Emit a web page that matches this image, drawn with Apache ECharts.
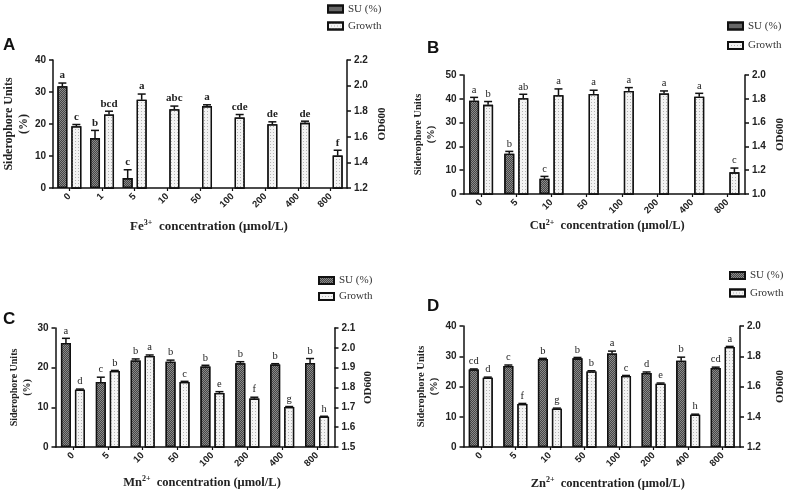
<!DOCTYPE html>
<html>
<head>
<meta charset="utf-8">
<script src="https://cdn.jsdelivr.net/npm/echarts@6/dist/echarts.min.js"></script>
<style>html,body{margin:0;padding:0;background:#fff}#c{width:787px;height:491px}</style>
</head>
<body>
<div id="c"></div>
<script>
// ---------- DATA ----------
const catsA = ['0','1','5','10','50','100','200','400','800'];
const suA = [31.8, 15.6, 3.1, null, null, null, null, null, null];
const suErrA = [1.0, 2.4, 2.6, null, null, null, null, null, null];
const growthA = [1.683, 1.774, 1.889, 1.816, 1.840, 1.751, 1.699, 1.709, 1.453];
const growthErrA = [0.013, 0.026, 0.045, 0.024, 0.010, 0.023, 0.018, 0.013, 0.042];
const suLetA = ['a','b','c','','','','','',''];
const growthLetA = ['c','bcd','a','abc','a','cde','de','de','f'];
const leftAxisA = [0, 40, 10];
const rightAxisA = [1.2, 2.2, 0.2];

const catsB = ['0','5','10','50','100','200','400','800'];
const suB = [39.2, 16.9, 6.4, null, null, null, null, null];
const suErrB = [1.4, 1.0, 1.0, null, null, null, null, null];
const growthB = [1.749, 1.804, 1.830, 1.841, 1.866, 1.844, 1.818, 1.182];
const growthErrB = [0.028, 0.034, 0.053, 0.031, 0.028, 0.022, 0.028, 0.036];
const suLetB = ['a','b','c','','','','',''];
const growthLetB = ['b','ab','a','a','a','a','a','c'];
const leftAxisB = [0, 50, 10];
const rightAxisB = [1.0, 2.0, 0.2];

const catsC = ['0','5','10','50','100','200','400','800'];
const suC = [26.2, 16.4, 21.8, 21.5, 20.3, 21.1, 20.8, 21.2];
const suErrC = [1.2, 1.2, 0.4, 0.4, 0.3, 0.4, 0.2, 1.1];
const growthC = [1.789, 1.883, 1.959, 1.828, 1.772, 1.744, 1.702, 1.653];
const growthErrC = [0.003, 0.003, 0.005, 0.003, 0.007, 0.007, 0.002, 0.002];
const suLetC = ['a','c','b','b','b','b','b','b'];
const growthLetC = ['d','b','a','c','e','f','g','h'];
const leftAxisC = [0, 30, 10];
const rightAxisC = [1.5, 2.1, 0.1];

const catsD = ['0','5','10','50','100','200','400','800'];
const suD = [25.6, 26.8, 29.1, 29.3, 30.9, 24.5, 28.5, 26.1];
const suErrD = [0.2, 0.3, 0.2, 0.3, 0.8, 0.3, 1.2, 0.3];
const growthD = [1.658, 1.484, 1.453, 1.700, 1.669, 1.619, 1.414, 1.861];
const growthErrD = [0.004, 0.004, 0.004, 0.004, 0.004, 0.004, 0.003, 0.004];
const suLetD = ['cd','c','b','b','a','d','b','cd'];
const growthLetD = ['d','f','g','b','c','e','h','a'];
const leftAxisD = [0, 40, 10];
const rightAxisD = [1.2, 2.0, 0.2];

const ionNames = ['Fe', 'Cu', 'Mn', 'Zn'];
const ionCharges = ['3+', '2+', '2+', '2+'];
const panelLabels = ['A', 'B', 'C', 'D'];

// ---------- LAYOUT / STYLE ----------
const SANS = '"Liberation Sans", Arial, sans-serif';
const SERIF = '"Liberation Serif", "Times New Roman", serif';

const panels = [
  {cats: catsA, su: suA, suErr: suErrA, gr: growthA, grErr: growthErrA, suLet: suLetA, grLet: growthLetA, la: leftAxisA, ra: rightAxisA,
   grid: {left: 47, top: 60, width: 300, height: 128}, yNameSize: 12, yNameGap: 22, rNameGap: 30, xNameGap: 31, xNameSize: 13, xShift: 18,
   legend: {left: 327, top: 2.5, itemGap: 4}, label: [3, 37], letFont: 'bold 11px ' + SERIF},
  {cats: catsB, su: suB, suErr: suErrB, gr: growthB, grErr: growthErrB, suLet: suLetB, grLet: growthLetB, la: leftAxisB, ra: rightAxisB,
   grid: {left: 463.5, top: 75, width: 281.5, height: 119}, yNameSize: 10.5, yNameGap: 25, rNameGap: 30, xNameGap: 20, xNameSize: 12.5, xShift: 6,
   legend: {left: 727, top: 19.5, itemGap: 6.5}, label: [427, 40], letFont: '10.5px ' + SERIF},
  {cats: catsC, su: suC, suErr: suErrC, gr: growthC, grErr: growthErrC, suLet: suLetC, grLet: growthLetC, la: leftAxisC, ra: rightAxisC,
   grid: {left: 55.5, top: 328, width: 279, height: 119}, yNameSize: 10, yNameGap: 18, rNameGap: 28, xNameGap: 28, xNameSize: 12.5, xShift: 14,
   legend: {left: 318, top: 274, itemGap: 3}, label: [3, 311], letFont: '10.5px ' + SERIF},
  {cats: catsD, su: suD, suErr: suErrD, gr: growthD, grErr: growthErrD, suLet: suLetD, grLet: growthLetD, la: leftAxisD, ra: rightAxisD,
   grid: {left: 463.5, top: 326, width: 279.5, height: 121}, yNameSize: 10.5, yNameGap: 15, rNameGap: 35, xNameGap: 29, xNameSize: 12.5, xShift: 12,
   legend: {left: 729, top: 269, itemGap: 4.5}, label: [427, 298], letFont: '10.5px ' + SERIF}
];

const darkStyle = {
  color: '#8a8a8a', borderColor: '#111', borderWidth: 1.3,
  decal: {symbol: 'rect', symbolSize: 1, dashArrayX: [[1, 1], [0, 1, 1, 0]], dashArrayY: [1, 0], color: 'rgba(0,0,0,0.5)'}
};
const lightStyle = {
  color: '#f3f3f3', borderColor: '#111', borderWidth: 1.3,
  decal: {symbol: 'rect', symbolSize: 1, dashArrayX: [1, 2], dashArrayY: [1, 2], color: '#b4b4b4'}
};

function errRender(offset, letters, font) {
  return function (params, api) {
    const i = api.value(0), v = api.value(1), e = api.value(2);
    if (isNaN(v)) return;
    const p0 = api.coord([i, v]);
    const p1 = api.coord([i, v + e]);
    const x = p0[0] + offset;
    return {
      type: 'group',
      children: [
        {type: 'line', shape: {x1: x, y1: p0[1], x2: x, y2: p1[1]}, style: {stroke: '#111', lineWidth: 1.5}},
        {type: 'line', shape: {x1: x - 4, y1: p1[1], x2: x + 4, y2: p1[1]}, style: {stroke: '#111', lineWidth: 1.5}},
        {type: 'text', x: x, y: p1[1] - 2,
         style: {text: letters[i], align: 'center', verticalAlign: 'bottom', textAlign: 'center', textVerticalAlign: 'bottom', font: font, fill: '#222'}}
      ]
    };
  };
}

const grids = [], xAxes = [], yAxes = [], series = [], legends = [], graphics = [];
const axisLineStyle = {show: true, lineStyle: {color: '#111', width: 1.5}};
const tickStyle = {show: true, length: 4, lineStyle: {color: '#111', width: 1.5}};

panels.forEach((p, k) => {
  grids.push(Object.assign({containLabel: false}, p.grid));
  xAxes.push({
    type: 'category', gridIndex: k, data: p.cats,
    axisLine: axisLineStyle, axisTick: {show: true, alignWithLabel: true, length: 3, lineStyle: {color: '#111', width: 1.2}},
    axisLabel: {interval: 0, rotate: 45, fontFamily: SANS, fontWeight: 'bold', fontSize: 9.5, color: '#222', margin: 7},
    name: ionNames[k] + '{sup|' + ionCharges[k] + '}  concentration (\u03bcmol/L)',
    nameLocation: 'middle', nameGap: p.xNameGap,
    nameTextStyle: {fontFamily: SERIF, fontWeight: 'bold', fontSize: p.xNameSize, color: '#222', padding: [0, 0, 0, p.xShift],
      rich: {sup: {fontFamily: SERIF, fontWeight: 'bold', fontSize: 8, color: '#222', padding: [0, 0, 7, 0]}}}
  });
  yAxes.push({
    type: 'value', gridIndex: k, position: 'left', min: p.la[0], max: p.la[1], interval: p.la[2],
    axisLine: axisLineStyle, axisTick: tickStyle, splitLine: {show: false},
    axisLabel: {fontFamily: SANS, fontWeight: 'bold', fontSize: 10, color: '#222', margin: 7},
    name: 'Siderophore Units\n(%)', nameLocation: 'middle', nameGap: p.yNameGap,
    nameTextStyle: {fontFamily: SERIF, fontWeight: 'bold', fontSize: p.yNameSize, color: '#222', lineHeight: p.yNameSize + 3}
  });
  yAxes.push({
    type: 'value', gridIndex: k, position: 'right', min: p.ra[0], max: p.ra[1], interval: p.ra[2],
    axisLine: axisLineStyle, axisTick: tickStyle, splitLine: {show: false},
    axisLabel: {fontFamily: SANS, fontWeight: 'bold', fontSize: 10, color: '#222', margin: 7,
      formatter: v => v.toFixed(1)},
    name: 'OD600', nameLocation: 'middle', nameGap: p.rNameGap,
    nameTextStyle: {fontFamily: SERIF, fontWeight: 'bold', fontSize: 11, color: '#222'}
  });
  series.push({
    type: 'bar', name: 'SU (%)', xAxisIndex: k, yAxisIndex: 2 * k, data: p.su,
    barWidth: 10, barGap: '40%', itemStyle: darkStyle, silent: true
  });
  series.push({
    type: 'bar', name: 'Growth', xAxisIndex: k, yAxisIndex: 2 * k + 1, data: p.gr,
    barWidth: 10, barGap: '40%', itemStyle: lightStyle, silent: true
  });
  series.push({
    type: 'custom', xAxisIndex: k, yAxisIndex: 2 * k, silent: true, z: 5,
    renderItem: errRender(-7, p.suLet, p.letFont),
    data: p.su.map((v, i) => [i, v, p.suErr[i]]).filter(d => d[1] != null)
  });
  series.push({
    type: 'custom', xAxisIndex: k, yAxisIndex: 2 * k + 1, silent: true, z: 5,
    renderItem: errRender(7, p.grLet, p.letFont),
    data: p.gr.map((v, i) => [i, v, p.grErr[i]]).filter(d => d[1] != null)
  });
  legends.push({
    left: p.legend.left, top: p.legend.top, orient: 'vertical', padding: 0,
    itemWidth: 15, itemHeight: 7, itemGap: p.legend.itemGap, icon: 'rect', selectedMode: false,
    data: ['SU (%)', 'Growth'],
    textStyle: {fontFamily: SERIF, fontSize: 11, color: '#333', lineHeight: 13, padding: [0, 0, 0, 0]}
  });
  graphics.push({
    type: 'text', left: p.label[0], top: p.label[1],
    style: {text: panelLabels[k], font: 'bold 17px ' + SANS, fill: '#111'}
  });
});

const chart = echarts.init(document.getElementById('c'), null, {renderer: 'canvas'});
chart.setOption({
  animation: false,
  backgroundColor: '#fff',
  grid: grids, xAxis: xAxes, yAxis: yAxes, series: series,
  legend: legends, graphic: graphics
});
</script>
</body>
</html>
